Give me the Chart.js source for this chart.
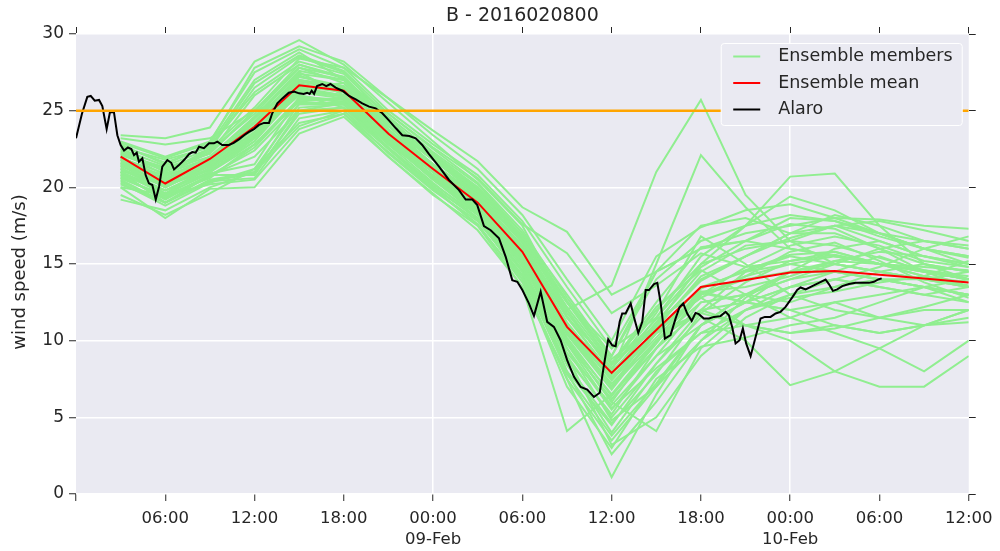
<!DOCTYPE html>
<html>
<head>
<meta charset="utf-8">
<script src="https://cdn.jsdelivr.net/npm/chart.js@4.4.1/dist/chart.umd.min.js"></script>
<style>
  html, body { margin: 0; padding: 0; background: #ffffff; }
  canvas { display: block; }
</style>
</head>
<body>
<canvas id="windChart" width="1000" height="551"></canvas>
<script>
// Forecast hours since 2016-02-08 00:00 for the 3-hourly ensemble output
const stepHours = [3, 6, 9, 12, 15, 18, 21, 24, 27, 30, 33, 36, 39, 42, 45, 48, 51, 54, 57, 60];

// Ensemble members, wind speed (m/s) at each step
const members = [
  [21.5,20.0,21.5,24.0,27.0,26.5,23.5,21.0,19.0,16.0,11.0,7.5,10.5,13.5,14.5,15.0,14.5,14.0,13.5,13.0],
  [22.5,21.0,22.5,26.5,28.5,27.5,24.5,22.0,20.0,17.0,13.0,9.0,14.0,16.5,17.5,18.2,17.8,16.8,16.0,15.5],
  [20.5,19.0,20.5,21.0,25.5,25.5,23.0,20.5,18.5,15.0,9.5,5.5,9.0,11.0,12.5,13.5,14.0,13.5,13.0,12.5],
  [23.4,23.2,23.9,28.2,29.6,28.0,25.5,23.0,20.5,17.5,12.0,8.0,11.0,15.0,16.0,16.5,17.5,17.0,16.0,15.0],
  [19.2,18.5,20.0,21.0,24.0,25.0,22.5,20.0,18.0,14.5,8.5,4.0,8.0,10.5,11.0,10.5,11.0,10.5,11.0,12.0],
  [21.0,19.5,21.0,23.0,26.5,26.8,24.0,21.5,19.5,16.5,12.5,9.5,14.5,17.5,18.0,17.0,17.5,16.5,15.5,15.0],
  [22.0,20.5,22.0,24.5,27.5,26.0,23.0,21.0,18.5,15.0,10.0,6.5,9.5,13.0,14.0,14.5,15.0,14.5,14.0,13.5],
  [20.0,18.0,19.9,20.0,23.5,24.6,22.0,19.5,17.5,14.0,7.0,3.0,7.5,9.6,10.2,11.0,11.5,12.5,13.5,13.0],
  [22.8,21.5,22.8,27.0,28.8,27.0,24.0,21.8,19.5,16.5,11.5,8.5,12.5,16.1,16.5,17.6,17.3,16.0,15.0,14.0],
  [21.2,20.2,21.2,23.5,26.0,25.5,22.8,20.8,18.8,15.5,10.0,6.0,10.0,12.0,12.5,14.5,14.5,14.0,14.0,13.5],
  [21.8,20.0,21.5,24.5,27.0,26.5,24.0,21.5,19.5,16.0,12.0,13.6,21.0,25.7,19.5,16.5,15.0,14.5,14.0,13.5],
  [22.0,20.5,22.0,24.0,26.5,26.0,23.5,21.5,19.0,15.5,11.0,8.0,15.0,22.1,18.7,16.0,15.5,15.0,14.5,14.0],
  [20.8,19.2,20.8,20.8,25.0,25.2,22.5,20.0,17.5,13.5,4.1,6.5,10.0,12.5,13.0,14.0,14.5,14.0,13.5,13.0],
  [21.6,20.6,21.6,23.8,26.8,26.2,23.2,21.2,19.0,15.5,10.0,6.0,4.1,9.5,12.0,13.0,13.5,14.5,15.0,14.5],
  [20.3,18.8,20.3,21.2,25.2,25.4,22.8,20.3,18.0,14.0,7.5,1.1,6.5,11.0,12.5,13.5,14.0,13.5,13.0,13.5],
  [22.3,20.8,22.3,25.0,28.0,27.2,24.2,22.2,20.0,16.8,12.5,8.5,12.0,15.0,17.5,20.7,20.9,17.5,15.0,14.5],
  [21.0,19.8,21.0,23.2,26.2,25.8,23.0,20.5,18.2,14.5,9.0,5.0,8.5,11.5,10.0,7.1,8.0,9.5,11.0,12.0],
  [21.4,20.4,21.4,23.6,26.3,25.9,23.3,21.0,18.6,15.2,9.8,6.2,9.5,12.0,11.0,10.0,8.0,7.0,7.0,9.0],
  [20.6,19.5,20.6,22.8,25.8,25.6,22.9,20.6,18.4,14.8,9.2,5.8,9.0,12.5,13.0,11.5,10.5,9.5,8.0,10.0],
  [22.2,21.2,22.2,25.0,27.8,26.8,24.0,21.8,19.8,16.8,12.5,9.0,14.5,16.0,17.0,17.5,18.0,17.9,17.5,17.3],
  [21.8,20.3,21.8,24.2,27.2,26.6,23.8,21.4,19.2,16.2,11.5,7.8,11.5,15.5,17.5,19.4,18.5,17.0,16.0,15.5],
  [20.2,19.0,20.4,20.6,24.5,25.0,22.2,19.8,17.8,14.2,8.0,4.5,8.5,12.0,14.5,15.5,15.0,14.5,14.0,14.5],
  [23.0,22.0,23.0,27.5,29.0,27.8,25.0,22.8,20.8,17.8,13.5,9.5,11.5,14.8,16.5,18.0,17.8,17.0,16.5,16.2],
  [21.3,19.6,21.3,23.3,26.6,26.4,23.6,21.3,19.3,16.0,11.0,7.0,10.5,13.1,12.5,12.0,11.0,10.5,11.0,11.5],
  [22.6,21.8,22.6,26.8,28.6,27.6,24.8,22.5,20.3,17.2,12.8,8.8,11.0,13.9,15.5,16.7,17.5,17.8,17.2,16.5],
  [20.8,19.8,21.0,22.8,25.6,25.8,23.0,20.8,18.6,15.2,9.5,4.8,7.0,10.0,12.0,13.5,14.5,15.5,14.5,13.5],
  [21.9,20.7,21.9,24.3,27.3,26.3,23.4,21.1,18.9,15.8,10.5,7.0,11.0,14.0,15.5,17.0,17.0,16.0,14.5,14.0],
  [19.5,18.2,19.6,21.2,24.2,24.8,22.3,19.9,17.6,13.8,7.5,3.5,7.0,11.0,13.0,14.0,15.0,16.0,16.5,16.0],
  [22.4,21.0,22.4,24.8,27.8,27.2,24.4,22.0,19.8,16.6,12.0,8.2,11.8,16.8,15.0,13.0,12.0,11.5,12.0,12.0],
  [21.1,20.1,21.1,23.0,26.2,26.0,23.2,21.0,18.8,15.6,10.4,6.8,10.5,11.8,11.0,11.5,12.5,13.0,13.5,14.0],
  [20.6,19.4,20.8,22.4,25.4,25.4,22.6,20.2,18.2,14.6,8.8,5.2,9.5,13.0,14.8,16.2,16.8,16.2,15.2,14.8],
  [22.1,21.1,22.0,24.6,27.6,27.0,24.2,21.9,19.7,16.4,11.8,8.2,11.4,13.2,13.5,14.2,15.2,15.8,15.5,15.0],
  [21.7,20.5,21.7,23.9,26.9,26.4,23.7,21.5,19.4,16.2,11.2,7.6,10.8,14.2,15.5,17.0,18.2,17.5,16.5,16.0],
  [20.9,19.6,20.9,21.5,25.9,25.7,23.1,20.7,18.5,15.3,9.8,5.6,8.2,10.5,12.0,12.8,13.2,13.8,14.2,15.2],
  [22.7,21.6,22.7,26.2,28.2,27.4,24.6,22.3,20.2,17.0,12.6,8.6,10.8,12.8,14.2,15.8,16.4,15.2,13.8,12.8],
  [21.4,20.0,21.4,23.4,26.6,26.2,23.4,21.2,18.9,15.7,10.6,7.2,10.2,13.2,12.5,12.0,12.5,11.5,11.0,11.2],
  [20.4,19.0,20.4,20.9,24.8,25.2,22.6,20.1,17.9,14.3,8.4,4.6,7.8,11.8,13.8,15.2,15.8,15.0,14.2,13.8],
  [22.9,21.9,22.9,27.8,29.2,28.2,25.8,23.4,21.2,18.2,14.0,10.0,15.5,17.4,18.5,18.9,18.0,17.0,16.0,15.4],
  [21.6,20.2,21.6,23.6,26.7,26.3,23.6,21.4,19.1,15.9,10.9,7.4,10.6,12.8,11.0,10.5,10.8,11.5,12.2,13.0],
  [21.2,19.8,21.2,23.2,26.4,26.0,23.3,21.0,18.7,15.4,10.2,6.4,9.8,13.4,14.6,15.6,15.8,15.0,14.6,14.2],
  [22.5,21.4,22.5,25.2,28.4,27.8,25.8,23.7,21.7,18.7,17.1,13.0,14.5,16.0,16.5,16.0,15.5,15.0,14.5,14.0],
  [21.9,20.9,21.9,24.6,27.4,27.0,24.8,22.6,20.6,17.6,15.7,11.8,13.6,15.7,14.8,15.2,15.6,15.0,14.2,13.6],
  [23.2,22.8,23.2,25.0,26.0,25.2,23.0,21.0,18.8,15.6,10.8,7.0,10.0,13.0,14.2,15.0,15.5,15.0,14.5,14.0],
  [20.0,19.5,20.2,20.5,23.8,24.8,22.0,19.6,17.2,13.5,7.8,3.8,7.2,11.0,13.0,14.5,15.2,15.0,14.8,14.6],
  [21.0,19.0,20.8,22.0,25.0,25.5,23.0,20.6,18.3,14.6,9.0,3.2,5.0,9.0,11.5,13.0,14.0,14.8,16.0,16.8],
  [22.2,21.3,22.2,26.0,28.0,27.1,24.3,22.1,19.9,16.7,12.2,8.4,12.2,14.6,13.0,12.5,13.5,14.0,13.5,12.5],
  [20.7,19.3,20.7,22.6,25.7,25.8,23.1,20.7,18.5,15.0,8.0,2.6,6.0,10.0,12.8,14.5,16.0,16.5,15.5,14.8],
  [21.5,20.8,21.6,24.0,27.0,26.6,24.0,21.8,19.6,16.4,11.6,7.8,11.2,14.5,16.2,16.5,16.2,15.4,14.6,14.0]
];

// Ensemble mean at each step
const ensembleMean = [22.0,20.25,21.85,23.95,26.65,26.3,23.5,21.2,19.0,15.8,10.9,7.9,10.7,13.5,13.95,14.45,14.55,14.3,14.05,13.8];

// Alaro run: hours and wind speed (m/s)
const alaroHours = [
  0.0,0.4,0.76,0.99,1.26,1.55,1.77,2.06,2.28,2.55,2.78,3.0,3.23,3.49,3.72,3.9,4.08,4.23,4.46,4.68,
  4.9,5.13,5.36,5.58,5.8,6.14,6.4,6.59,6.92,7.26,7.6,7.82,8.04,8.27,8.6,8.94,9.27,9.5,9.83,10.28,
  10.6,10.95,11.3,11.6,11.96,12.3,12.63,12.97,13.19,13.53,13.87,14.3,14.65,14.99,15.3,15.54,15.7,15.84,16.0,16.2,
  16.55,16.82,17.1,17.45,17.9,18.35,18.8,19.24,19.7,20.14,20.59,21.0,21.5,21.93,22.4,22.83,23.27,23.7,24.4,25.07,
  25.74,26.19,26.64,26.97,27.42,27.87,28.43,28.88,29.32,29.66,30.0,30.44,30.78,31.23,31.67,32.12,32.57,33.01,33.47,33.92,
  34.36,34.81,35.2,35.45,35.77,36.04,36.27,36.54,36.71,36.94,37.28,37.5,37.79,38.06,38.29,38.51,38.85,39.07,39.3,39.58,
  39.96,40.3,40.57,40.81,41.08,41.38,41.64,41.86,42.2,42.54,42.88,43.32,43.66,43.88,44.1,44.33,44.6,44.82,45.04,45.34,
  45.68,46.01,46.3,46.68,47.02,47.35,47.69,48.14,48.47,48.7,49.04,49.48,49.93,50.38,50.6,50.87,51.16,51.5,51.95,52.4,
  52.84,53.29,53.63,53.92,54.15
];
const alaroSpeed = [
  23.2,24.8,25.9,25.96,25.65,25.7,25.3,23.8,24.9,24.9,23.4,22.76,22.4,22.6,22.5,22.1,22.26,21.67,21.9,20.8,
  20.26,20.15,19.2,20.04,21.35,21.78,21.6,21.17,21.45,21.78,22.17,22.3,22.26,22.65,22.55,22.87,22.87,22.98,22.76,22.76,
  22.9,23.13,23.4,23.6,23.8,24.07,24.2,24.2,24.83,25.48,25.8,26.17,26.24,26.13,26.09,26.17,26.09,26.3,26.09,26.6,
  26.74,26.6,26.74,26.5,26.3,25.96,25.74,25.48,25.26,25.15,24.83,24.4,23.85,23.4,23.35,23.2,22.76,22.2,21.35,20.48,
  19.82,19.2,19.2,18.84,17.47,17.2,16.67,15.47,13.95,13.84,13.3,12.43,11.62,13.19,11.23,10.9,10.03,8.73,7.64,6.98,
  6.81,6.33,6.6,8.2,10.08,9.7,9.64,11.23,11.77,11.77,12.43,11.55,10.5,11.23,13.3,13.3,13.69,13.77,12.43,10.14,
  10.36,11.45,12.2,12.43,11.77,11.29,11.81,11.73,11.45,11.45,11.55,11.6,11.88,11.66,10.9,9.82,10.03,10.8,9.82,8.99,
  10.25,11.45,11.55,11.55,11.77,11.88,12.2,12.82,13.3,13.47,13.34,13.56,13.77,13.99,13.69,13.25,13.34,13.56,13.69,13.77,
  13.77,13.77,13.84,13.99,14.06
];

// Reference wind speed level (m/s)
const thresholdSpeed = 25;

// Time axis ticks (hours since start) and their labels
const xTickHours = [0, 6, 12, 18, 24, 30, 36, 42, 48, 54, 60];
const xTickLabels = ['', '06:00', '12:00', '18:00', ['00:00', '09-Feb'], '06:00', '12:00', '18:00', ['00:00', '10-Feb'], '06:00', '12:00'];

const chartTitle = 'B - 2016020800';
const yAxisTitle = 'wind speed (m/s)';

const TEXT = '#262626';
const FONT = 'DejaVu Sans';
const PLOT_BG = '#EAEAF2';

const memberDatasets = members.map((vals, i) => ({
  label: i === 0 ? 'Ensemble members' : '',
  data: vals.map((v, k) => ({ x: stepHours[k], y: v })),
  borderColor: '#90EE90',
  borderWidth: 2,
  pointRadius: 0,
  order: 4
}));

const meanDataset = {
  label: 'Ensemble mean',
  data: ensembleMean.map((v, k) => ({ x: stepHours[k], y: v })),
  borderColor: '#FF0000',
  borderWidth: 2,
  pointRadius: 0,
  order: 3
};

const alaroDataset = {
  label: 'Alaro',
  data: alaroSpeed.map((v, k) => ({ x: alaroHours[k], y: v })),
  borderColor: '#000000',
  borderWidth: 2,
  pointRadius: 0,
  order: 2
};

const thresholdDataset = {
  label: '',
  data: [{ x: 0, y: thresholdSpeed }, { x: 60, y: thresholdSpeed }],
  borderColor: '#FFA500',
  borderWidth: 2.5,
  pointRadius: 0,
  order: 1
};

// Grey plot background
const plotBackground = {
  id: 'plotBackground',
  beforeDraw(chart) {
    const { ctx, chartArea: a } = chart;
    ctx.save();
    ctx.fillStyle = PLOT_BG;
    ctx.fillRect(a.left, a.top, a.right - a.left, a.bottom - a.top);
    ctx.restore();
  }
};

// Vertical y-axis label, left of the tick labels
const yLabel = {
  id: 'yLabel',
  afterDraw(chart) {
    const { ctx, chartArea: a } = chart;
    ctx.save();
    ctx.translate(20, (a.top + a.bottom) / 2 + 8);
    ctx.rotate(-Math.PI / 2);
    ctx.font = '18px "' + FONT + '"';
    ctx.fillStyle = TEXT;
    ctx.textAlign = 'center';
    ctx.textBaseline = 'middle';
    ctx.fillText(yAxisTitle, 0, 0);
    ctx.restore();
  }
};

// Legend box in the upper right corner of the plot
const legendBox = {
  id: 'legendBox',
  afterDraw(chart) {
    const { ctx, chartArea: a } = chart;
    const entries = [memberDatasets[0], meanDataset, alaroDataset];
    const x0 = a.right - 247.5, y0 = a.top + 9.5, w = 241, h = 82;
    ctx.save();
    ctx.beginPath();
    ctx.roundRect(x0, y0, w, h, 3);
    ctx.fillStyle = PLOT_BG;
    ctx.fill();
    ctx.strokeStyle = '#FFFFFF';
    ctx.lineWidth = 1;
    ctx.stroke();
    ctx.font = '17.5px "' + FONT + '"';
    ctx.textBaseline = 'middle';
    ctx.textAlign = 'left';
    entries.forEach((ds, i) => {
      const y = y0 + 13 + i * 26.5;
      ctx.beginPath();
      ctx.moveTo(x0 + 12, y);
      ctx.lineTo(x0 + 39, y);
      ctx.strokeStyle = ds.borderColor;
      ctx.lineWidth = 2;
      ctx.stroke();
      ctx.fillStyle = TEXT;
      ctx.fillText(ds.label, x0 + 57, y);
    });
    ctx.restore();
  }
};

new Chart(document.getElementById('windChart'), {
  type: 'line',
  data: { datasets: [...memberDatasets, meanDataset, alaroDataset, thresholdDataset] },
  options: {
    responsive: false,
    animation: false,
    devicePixelRatio: 1,
    layout: { padding: 0 },
    plugins: { legend: { display: false }, tooltip: { enabled: false }, title: { display: false } },
    elements: { line: { tension: 0 } },
    scales: {
      x: {
        type: 'linear', position: 'bottom', min: 0, max: 60,
        ticks: {
          stepSize: 6, autoSkip: false, maxRotation: 0, minRotation: 0,
          color: TEXT, font: { family: FONT, size: 16.5, lineHeight: 1.25 }, padding: 7.5,
          callback: (value) => { const i = xTickHours.indexOf(value); return i >= 0 ? xTickLabels[i] : ''; }
        },
        grid: {
          color: (ctx) => (ctx.tick && ctx.tick.value % 24 === 0 && ctx.tick.value > 0 && ctx.tick.value < 60) ? '#FFFFFF' : 'rgba(0,0,0,0)',
          lineWidth: 1.5, tickColor: TEXT, tickWidth: 1, tickLength: 7
        },
        border: { display: false },
        afterFit(s) { s.height = 57; }
      },
      xTop: {
        type: 'linear', position: 'top', min: 0, max: 60,
        ticks: { stepSize: 6, display: false },
        grid: { drawOnChartArea: false, tickColor: TEXT, tickWidth: 1, tickLength: 7 },
        border: { display: false },
        title: { display: true, text: chartTitle, color: TEXT, font: { family: FONT, size: 19, lineHeight: 1.2 }, padding: { top: 5, bottom: 0 } },
        afterFit(s) { s.height = 34; }
      },
      y: {
        type: 'linear', position: 'left', min: 0, max: 30,
        ticks: { stepSize: 5, color: TEXT, font: { family: FONT, size: 17 }, padding: 5 },
        grid: { color: '#FFFFFF', lineWidth: 1.5, tickColor: TEXT, tickWidth: 1, tickLength: 7 },
        border: { display: false },
        afterFit(s) { s.width = 76; }
      },
      yRight: {
        type: 'linear', position: 'right', min: 0, max: 30,
        ticks: { stepSize: 5, display: false },
        grid: { drawOnChartArea: false, tickColor: TEXT, tickWidth: 1, tickLength: 7 },
        border: { display: false },
        afterFit(s) { s.width = 29; }
      }
    }
  },
  plugins: [plotBackground, yLabel, legendBox]
});
</script>
</body>
</html>
